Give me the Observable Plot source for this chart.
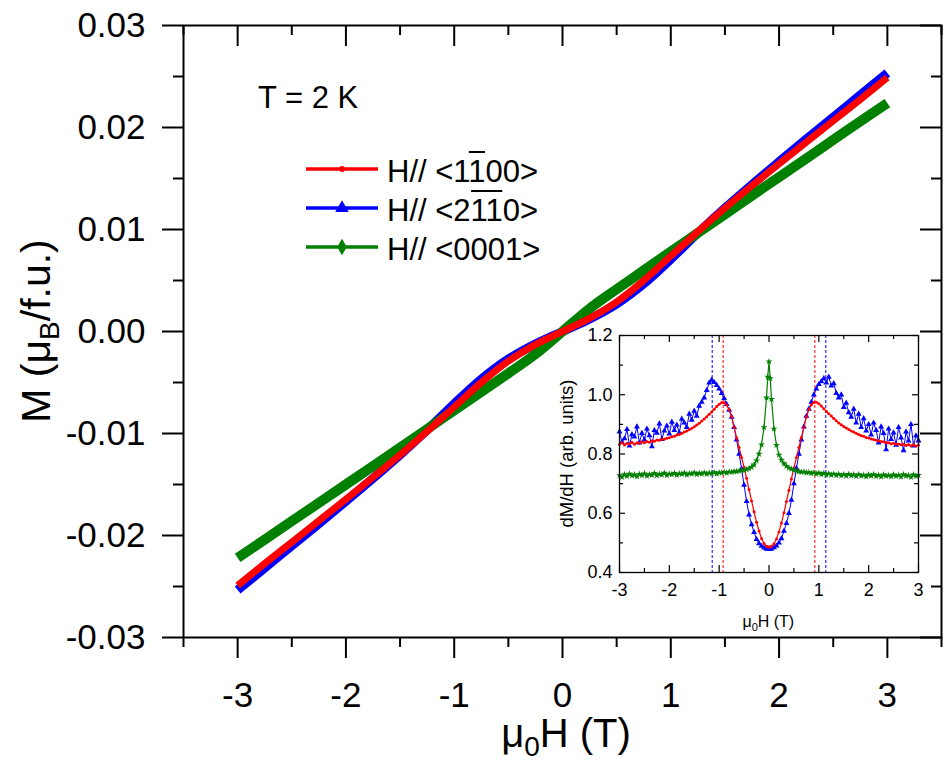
<!DOCTYPE html>
<html><head><meta charset="utf-8">
<script src="https://cdn.jsdelivr.net/npm/d3@7"></script>
<script src="https://cdn.jsdelivr.net/npm/@observablehq/plot@0.6"></script>
<style>
body{margin:0;background:#fff}
#wrap{position:relative;width:947px;height:764px;overflow:hidden}
</style>
</head><body><div id="wrap"></div>
<script>
const FONT = "'Liberation Sans', Arial, Helvetica, sans-serif";

// ---------- main panel: M vs mu0H ----------
const H_main = [-3,-2.75,-2.5,-2.25,-2,-1.75,-1.5,-1.25,-1,-0.75,-0.5,-0.25,0,0.25,0.5,0.75,1,1.25,1.5,1.75,2,2.25,2.5,2.75,3];
const M_red = [-0.0249,-0.02275,-0.02065,-0.01855,-0.01645,-0.0143,-0.0121,-0.0098,-0.0074,-0.0050,-0.0029,-0.00128,0,0.00128,0.0029,0.0050,0.0074,0.0098,0.0121,0.0143,0.01645,0.01855,0.02065,0.02275,0.0249];
const M_blue = [-0.02535,-0.02318,-0.0210,-0.01885,-0.01664,-0.0144,-0.01209,-0.00966,-0.00709,-0.00467,-0.0027,-0.00122,0,0.00122,0.0027,0.00467,0.00709,0.00966,0.01209,0.0144,0.01664,0.01885,0.0210,0.02318,0.02535];
const M_green = [-0.0222,-0.0204,-0.0186,-0.0168,-0.0150,-0.0132,-0.01138,-0.00956,-0.00774,-0.00592,-0.0041,-0.00222,0,0.00224,0.00414,0.00599,0.00783,0.00966,0.01149,0.01332,0.01514,0.01696,0.01878,0.0206,0.0224];

const seriesColors = ["#ff0000", "#0000ff", "#008000"];

const xMajorMain = [-3,-2,-1,0,1,2,3];
const xMinorMain = [-3.5,-2.5,-1.5,-0.5,0.5,1.5,2.5,3.5];
const yMajorMain = [-0.03,-0.02,-0.01,0,0.01,0.02,0.03];
const yMinorMain = [-0.025,-0.015,-0.005,0.005,0.015,0.025];

// ---------- inset: dM/dH vs mu0H ----------
const H_inset = [-3.00,-2.95,-2.90,-2.85,-2.80,-2.75,-2.70,-2.65,-2.60,-2.55,
-2.50,-2.45,-2.40,-2.35,-2.30,-2.25,-2.20,-2.15,-2.10,-2.05,
-2.00,-1.95,-1.90,-1.85,-1.80,-1.75,-1.70,-1.65,-1.60,-1.55,
-1.50,-1.45,-1.40,-1.35,-1.30,-1.25,-1.20,-1.15,-1.10,-1.05,
-1.00,-0.95,-0.90,-0.85,-0.80,-0.75,-0.70,-0.65,-0.60,-0.55,
-0.50,-0.45,-0.40,-0.35,-0.30,-0.25,-0.20,-0.15,-0.10,-0.05,
-0.025,0,0.025,
0.05,0.10,0.15,0.20,0.25,0.30,0.35,0.40,0.45,0.50,
0.55,0.60,0.65,0.70,0.75,0.80,0.85,0.90,0.95,1.00,
1.05,1.10,1.15,1.20,1.25,1.30,1.35,1.40,1.45,1.50,
1.55,1.60,1.65,1.70,1.75,1.80,1.85,1.90,1.95,2.00,
2.05,2.10,2.15,2.20,2.25,2.30,2.35,2.40,2.45,2.50,
2.55,2.60,2.65,2.70,2.75,2.80,2.85,2.90,2.95,3.00];
const D_red = [0.832,0.838,0.830,0.836,0.834,0.840,0.833,0.838,0.836,0.841,
0.838,0.842,0.840,0.845,0.843,0.847,0.846,0.850,0.851,0.853,
0.855,0.858,0.860,0.864,0.866,0.870,0.874,0.878,0.882,0.887,
0.892,0.898,0.904,0.911,0.918,0.926,0.934,0.942,0.951,0.960,
0.968,0.974,0.973,0.965,0.950,0.926,0.890,0.855,0.822,0.788,
0.755,0.718,0.680,0.642,0.605,0.570,0.540,0.515,0.498,0.489,
0.487,0.486,0.487,
0.489,0.497,0.513,0.537,0.567,0.602,0.640,0.678,0.716,0.753,
0.788,0.822,0.856,0.890,0.925,0.950,0.966,0.974,0.975,0.970,
0.962,0.953,0.944,0.936,0.928,0.920,0.912,0.905,0.899,0.893,
0.888,0.883,0.878,0.874,0.870,0.866,0.862,0.860,0.856,0.854,
0.851,0.849,0.846,0.845,0.842,0.841,0.838,0.838,0.835,0.836,
0.833,0.834,0.831,0.833,0.829,0.832,0.828,0.831,0.827,0.830];
const D_blue = [0.875,0.840,0.852,0.883,0.828,0.866,0.858,0.892,0.838,0.870,
0.848,0.885,0.862,0.825,0.880,0.871,0.902,0.850,0.878,0.895,
0.868,0.908,0.880,0.898,0.872,0.918,0.905,0.890,0.935,0.915,
0.945,0.928,0.962,0.975,0.990,1.015,1.040,1.050,1.042,1.032,
1.020,1.005,0.988,0.968,0.948,0.925,0.890,0.848,0.800,0.750,
0.695,0.640,0.595,0.562,0.536,0.512,0.498,0.489,0.483,0.480,
0.479,0.478,0.479,
0.480,0.484,0.490,0.500,0.515,0.540,0.566,0.600,0.645,0.700,
0.752,0.800,0.848,0.892,0.928,0.952,0.975,1.000,1.020,1.035,
1.045,1.055,1.040,1.060,1.030,1.038,1.005,0.990,1.000,0.958,
0.972,0.940,0.925,0.952,0.905,0.935,0.890,0.920,0.878,0.900,
0.865,0.905,0.880,0.838,0.892,0.870,0.815,0.885,0.850,0.872,
0.830,0.890,0.855,0.812,0.875,0.845,0.900,0.828,0.862,0.845];
const D_green = [0.728,0.722,0.731,0.725,0.733,0.727,0.730,0.724,0.732,0.728,
0.734,0.726,0.731,0.729,0.735,0.727,0.732,0.730,0.736,0.728,
0.733,0.731,0.735,0.729,0.734,0.732,0.736,0.730,0.734,0.733,
0.737,0.731,0.735,0.733,0.737,0.732,0.736,0.734,0.738,0.733,
0.737,0.736,0.739,0.736,0.740,0.739,0.741,0.741,0.743,0.744,
0.746,0.748,0.751,0.756,0.764,0.778,0.800,0.832,0.890,0.990,
1.060,1.112,1.055,
0.985,0.885,0.830,0.797,0.780,0.768,0.759,0.753,0.749,0.746,
0.743,0.741,0.739,0.740,0.737,0.738,0.735,0.737,0.733,0.736,
0.731,0.735,0.730,0.734,0.729,0.733,0.728,0.732,0.727,0.731,
0.726,0.732,0.727,0.730,0.725,0.731,0.726,0.729,0.724,0.730,
0.726,0.731,0.725,0.729,0.723,0.730,0.726,0.728,0.724,0.730,
0.725,0.729,0.723,0.731,0.726,0.728,0.722,0.730,0.725,0.729];

const peakRed = [-0.92, 0.92];
const peakBlue = [-1.14, 1.14];

const xMajorInset = [-3,-2,-1,0,1,2,3];
const xMinorInset = [-2.5,-1.5,-0.5,0.5,1.5,2.5];
const yMajorInset = [0.4,0.6,0.8,1.0,1.2];
const yMinorInset = [0.5,0.7,0.9,1.1];

// ---------- tidy tables ----------
const mainRed = H_main.map((h,i)=>({H:h, M:M_red[i]}));
const mainBlue = H_main.map((h,i)=>({H:h, M:M_blue[i]}));
const mainGreen = H_main.map((h,i)=>({H:h, M:M_green[i]}));
const insRed = H_inset.map((h,i)=>({H:h, v:D_red[i]}));
const insBlue = H_inset.map((h,i)=>({H:h, v:D_blue[i]}));
const insGreen = H_inset.map((h,i)=>({H:h, v:D_green[i]}));

// ---------- main plot ----------
const W = 947, HT = 764, mL = 183, mR = 6, mT = 25, mB = 127;
const fw = W - mL - mR, fh = HT - mT - mB;
const main = Plot.plot({
  width: W, height: HT, marginLeft: mL, marginRight: mR, marginTop: mT, marginBottom: mB,
  style: {fontFamily: FONT, background: "white", color: "black"},
  x: {domain: [-3.5, 3.5]},
  y: {domain: [-0.03, 0.03]},
  marks: [
    Plot.line(mainBlue, {x: "H", y: "M", stroke: seriesColors[1], strokeWidth: 9, curve: "catmull-rom", strokeLinecap: "butt"}),
    Plot.line(mainGreen, {x: "H", y: "M", stroke: seriesColors[2], strokeWidth: 10, curve: "catmull-rom", strokeLinecap: "butt"}),
    Plot.line(mainRed, {x: "H", y: "M", stroke: seriesColors[0], strokeWidth: 7, curve: "catmull-rom", strokeLinecap: "butt"}),
    Plot.frame({stroke: "black", strokeWidth: 2}),
    Plot.axisX({ticks: xMajorMain, tickSize: 21, tickPadding: 24, fontSize: 35, tickFormat: d => String(d), label: null, strokeWidth: 2}),
    Plot.axisX({ticks: xMinorMain, tickSize: 10, tickFormat: () => "", label: null, strokeWidth: 2}),
    Plot.axisY({ticks: yMajorMain, tickSize: 21, tickPadding: 17, fontSize: 35, tickFormat: d => (Math.abs(d) < 1e-9 ? 0 : d).toFixed(2), label: null, strokeWidth: 2}),
    Plot.axisY({ticks: yMinorMain, tickSize: 10, tickFormat: () => "", label: null, strokeWidth: 2}),
    Plot.tickX(xMajorMain, {x: d => d, insetBottom: fh - 21, stroke: "black", strokeWidth: 2}),
    Plot.tickX(xMinorMain, {x: d => d, insetBottom: fh - 10, stroke: "black", strokeWidth: 2}),
    Plot.tickY(yMajorMain, {y: d => d, insetLeft: fw - 21, stroke: "black", strokeWidth: 2}),
    Plot.tickY(yMinorMain, {y: d => d, insetLeft: fw - 10, stroke: "black", strokeWidth: 2})
  ]
});
const wrap = document.getElementById("wrap");
wrap.append(main);

// annotations on main
const svg = d3.select(main);
const ann = svg.append("g").attr("font-family", FONT).attr("fill", "black");

// axis titles with subscripts
const xt = ann.append("text").attr("x", 566).attr("y", 747).attr("font-size", 40).attr("text-anchor", "middle");
xt.append("tspan").text("\u03bc");
xt.append("tspan").attr("font-size", 28).attr("dy", 9).text("0");
xt.append("tspan").attr("dy", -9).text("H (T)");

const yt = ann.append("text").attr("transform", "translate(50,331) rotate(-90)").attr("font-size", 41).attr("text-anchor", "middle");
yt.append("tspan").text("M (\u03bc");
yt.append("tspan").attr("font-size", 28).attr("dy", 9).text("B");
yt.append("tspan").attr("dy", -9).text("/f.u.)");

ann.append("text").attr("x", 258).attr("y", 108).attr("font-size", 31).attr("text-anchor", "start").text("T = 2 K");

// legend
const legendRows = [
  {parts: [["H// <1", false], ["1", true], ["00>", false]], color: seriesColors[0], sym: "dot", y: 169},
  {parts: [["H// <2", false], ["11", true], ["0>", false]], color: seriesColors[1], sym: d3.symbolTriangle, y: 208},
  {parts: [["H// <0001>", false]], color: seriesColors[2], sym: d3.symbolDiamond, y: 247}
];
legendRows.forEach(r => {
  ann.append("line").attr("x1", 306).attr("x2", 378).attr("y1", r.y).attr("y2", r.y)
    .attr("stroke", r.color).attr("stroke-width", 3.5);
  if (r.sym === "dot") {
    ann.append("circle").attr("cx", 342).attr("cy", r.y).attr("r", 3).attr("fill", r.color);
  } else {
    ann.append("path").attr("transform", `translate(342,${r.y})`)
      .attr("d", d3.symbol(r.sym, 80)()).attr("fill", r.color);
  }
  const base = r.y + 12.5;
  const t = ann.append("text").attr("x", 387).attr("y", base).attr("font-size", 31).attr("text-anchor", "start");
  let idx = 0; const overs = [];
  r.parts.forEach(([s, over]) => {
    t.append("tspan").text(s);
    if (over) overs.push([idx, s.length]);
    idx += s.length;
  });
  const node = t.node();
  overs.forEach(([i, n]) => {
    const x0 = node.getStartPositionOfChar(i).x;
    const x1 = node.getStartPositionOfChar(i + n).x;
    ann.append("line").attr("x1", x0 + 0.5).attr("x2", x1 - 0.5).attr("y1", base - 29.5).attr("y2", base - 29.5)
      .attr("stroke", "black").attr("stroke-width", 2);
  });
});

// ---------- inset ----------
const iL = 545, iT = 325, iW = 380, iH = 305, imL = 74, imR = 7, imT = 10, imB = 58;
const ifw = iW - imL - imR, ifh = iH - imT - imB;
const inset = Plot.plot({
  width: iW, height: iH, marginLeft: imL, marginRight: imR, marginTop: imT, marginBottom: imB,
  style: {fontFamily: FONT, background: "transparent", color: "black", overflow: "visible"},
  x: {domain: [-3, 3]},
  y: {domain: [0.4, 1.2]},
  marks: [
    Plot.ruleX(peakBlue, {x: d => d, stroke: seriesColors[1], strokeWidth: 1, strokeDasharray: "3,2"}),
    Plot.ruleX(peakRed, {x: d => d, stroke: seriesColors[0], strokeWidth: 1, strokeDasharray: "3,2"}),
    Plot.line(insBlue, {x: "H", y: "v", stroke: seriesColors[1], strokeWidth: 1}),
    Plot.dot(insBlue, {x: "H", y: "v", fill: seriesColors[1], symbol: "triangle", r: 2.2}),
    Plot.line(insRed, {x: "H", y: "v", stroke: seriesColors[0], strokeWidth: 1.2}),
    Plot.dot(insRed, {x: "H", y: "v", fill: seriesColors[0], r: 1.5}),
    Plot.line(insGreen, {x: "H", y: "v", stroke: seriesColors[2], strokeWidth: 1.2}),
    Plot.dot(insGreen, {x: "H", y: "v", fill: seriesColors[2], symbol: "star", r: 2.2}),
    Plot.frame({stroke: "black", strokeWidth: 1.3}),
    Plot.axisX({ticks: xMajorInset, tickSize: 0, tickPadding: 11, fontSize: 18, tickFormat: d => String(d), label: null}),
    Plot.axisY({ticks: yMajorInset, tickSize: 0, tickPadding: 7, fontSize: 18, tickFormat: d => d.toFixed(1), label: null}),
    Plot.tickX(xMajorInset, {x: d => d, insetTop: ifh - 7, stroke: "black", strokeWidth: 1.2}),
    Plot.tickX(xMinorInset, {x: d => d, insetTop: ifh - 4, stroke: "black", strokeWidth: 1.2}),
    Plot.tickX(xMajorInset, {x: d => d, insetBottom: ifh - 7, stroke: "black", strokeWidth: 1.2}),
    Plot.tickX(xMinorInset, {x: d => d, insetBottom: ifh - 4, stroke: "black", strokeWidth: 1.2}),
    Plot.tickY(yMajorInset, {y: d => d, insetRight: ifw - 6, stroke: "black", strokeWidth: 1.2}),
    Plot.tickY(yMinorInset, {y: d => d, insetRight: ifw - 4, stroke: "black", strokeWidth: 1.2}),
    Plot.tickY(yMajorInset, {y: d => d, insetLeft: ifw - 6, stroke: "black", strokeWidth: 1.2}),
    Plot.tickY(yMinorInset, {y: d => d, insetLeft: ifw - 4, stroke: "black", strokeWidth: 1.2})
  ]
});
inset.style.position = "absolute";
inset.style.left = iL + "px";
inset.style.top = iT + "px";
wrap.append(inset);

const ia = d3.select(inset).append("g").attr("font-family", FONT).attr("fill", "black");
const ixt = ia.append("text").attr("x", 768.3 - iL).attr("y", 626.5 - iT).attr("font-size", 16).attr("text-anchor", "middle");
ixt.append("tspan").text("\u03bc");
ixt.append("tspan").attr("font-size", 11).attr("dy", 4).text("0");
ixt.append("tspan").attr("dy", -4).text("H (T)");
ia.append("text").attr("transform", `translate(${573 - iL},${453.5 - iT}) rotate(-90)`)
  .attr("font-size", 18.5).attr("text-anchor", "middle").text("dM/dH (arb. units)");
</script></body></html>
